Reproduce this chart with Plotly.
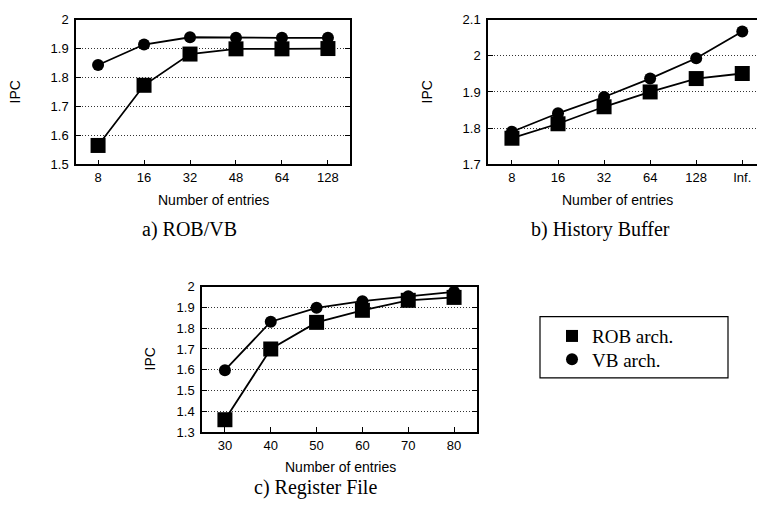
import plotly.graph_objects as go

W, H = 757, 513

# a) ROB/VB size sweep
rob_sizes = ["8", "16", "32", "48", "64", "128"]
rob_ipc_rob = [1.565, 1.773, 1.881, 1.899, 1.899, 1.900]
rob_ipc_vb = [1.843, 1.914, 1.939, 1.937, 1.937, 1.937]

# b) History buffer size sweep
hb_sizes = ["8", "16", "32", "64", "128", "Inf."]
hb_ipc_rob = [1.772, 1.812, 1.859, 1.900, 1.937, 1.951]
hb_ipc_vb = [1.790, 1.841, 1.886, 1.937, 1.993, 2.067]

# c) Register file size sweep
rf_sizes = [30, 40, 50, 60, 70, 80]
rf_ipc_rob = [1.360, 1.700, 1.828, 1.886, 1.934, 1.948]
rf_ipc_vb = [1.598, 1.831, 1.898, 1.930, 1.953, 1.975]

series_names = ["ROB arch.", "VB arch."]
captions = ["a) ROB/VB", "b) History Buffer", "c) Register File"]

SANS = "Liberation Sans, Arial, sans-serif"
SERIF = "Liberation Serif, Times New Roman, serif"

def px_x(x0, x1):
    return [x0 / W, x1 / W]

def px_y(top, bottom):
    return [1 - bottom / H, 1 - top / H]

fig = go.Figure()

sq = dict(symbol="square", size=15, color="black")
ci = dict(symbol="circle", size=12, color="black")
ln = dict(color="black", width=1.8)

def add_pair(xs, rob, vb, xa, ya):
    fig.add_trace(go.Scatter(x=xs, y=rob, mode="lines+markers", marker=sq, line=ln,
                             xaxis=xa, yaxis=ya, showlegend=False, cliponaxis=False))
    fig.add_trace(go.Scatter(x=xs, y=vb, mode="lines+markers", marker=ci, line=ln,
                             xaxis=xa, yaxis=ya, showlegend=False, cliponaxis=False))

add_pair(rob_sizes, rob_ipc_rob, rob_ipc_vb, "x", "y")
add_pair(hb_sizes, hb_ipc_rob, hb_ipc_vb, "x2", "y2")
add_pair(rf_sizes, rf_ipc_rob, rf_ipc_vb, "x3", "y3")

# legend entries (markers only), one legend per row for tight spacing
fig.add_trace(go.Scatter(x=[None], y=[None], mode="markers", name=series_names[0],
                         marker=dict(symbol="square", size=12, color="black"),
                         xaxis="x3", yaxis="y3", legend="legend"))
fig.add_trace(go.Scatter(x=[None], y=[None], mode="markers", name=series_names[1],
                         marker=dict(symbol="circle", size=12, color="black"),
                         xaxis="x3", yaxis="y3", legend="legend2"))

tickfont = dict(family=SANS, size=13, color="black")

def xaxis(domain, anchor, mirror=True, **kw):
    return dict(domain=domain, anchor=anchor, showline=True, linecolor="black", linewidth=1.5,
                mirror=mirror, ticks="inside", ticklen=5, tickcolor="black", tickwidth=1,
                showgrid=False, zeroline=False, tickfont=tickfont, fixedrange=True, **kw)

def yaxis(domain, anchor, rng, dtick, mirror="ticks"):
    return dict(domain=domain, anchor=anchor, range=rng, dtick=dtick, showline=True,
                linecolor="black", linewidth=1.5, mirror=mirror, ticks="inside", ticklen=5,
                tickcolor="black", tickwidth=1, showgrid=True, gridcolor="#333333",
                griddash="1px,2px", gridwidth=1, zeroline=False, tickfont=tickfont,
                fixedrange=True, ticklabelstandoff=3)

legend_style = dict(xanchor="left", yanchor="middle",
                    font=dict(family=SERIF, size=19, color="black"),
                    bgcolor="rgba(0,0,0,0)", borderwidth=0,
                    itemclick=False, itemdoubleclick=False)

fig.update_layout(
    width=W, height=H, margin=dict(l=0, r=0, t=0, b=0),
    paper_bgcolor="white", plot_bgcolor="white",
    xaxis=xaxis(px_x(76, 350), "y", type="category", categoryorder="array",
                categoryarray=rob_sizes, range=[-0.48, 5.48]),
    yaxis=yaxis(px_y(13, 162), "x", [1.5, 2.0], 0.1),
    xaxis2=xaxis(px_x(488, 757), "y2", type="category", categoryorder="array",
                 categoryarray=hb_sizes, range=[-0.52, 5.32]),
    yaxis2=yaxis(px_y(13, 162), "x2", [1.7, 2.1], 0.1, mirror=False),
    xaxis3=xaxis(px_x(202, 477), "y3", range=[25, 85], dtick=10, tickmode="linear", tick0=30),
    yaxis3=yaxis(px_y(288, 438), "x3", [1.3, 2.0], 0.1),
    showlegend=True,
    legend=dict(x=552 / W, y=1 - 339 / H, **legend_style),
    legend2=dict(x=552 / W, y=1 - 363 / H, **legend_style),
)

# legend frame
fig.add_shape(type="rect", xref="paper", yref="paper",
              x0=540 / W, x1=728 / W, y0=1 - 382 / H, y1=1 - 319 / H,
              line=dict(color="black", width=1.2), fillcolor="rgba(0,0,0,0)")

def ann(text, x, y, size, family, angle=0):
    fig.add_annotation(text=text, x=x / W, y=1 - y / H, xref="paper", yref="paper",
                       showarrow=False, xanchor="center", yanchor="middle", textangle=angle,
                       font=dict(family=family, size=size, color="black"))

# axis titles
ann("Number of entries", 213, 199, 14, SANS)
ann("Number of entries", 617, 199, 14, SANS)
ann("Number of entries", 340, 474, 14, SANS)
ann("IPC", 15, 88, 14, SANS, -90)
ann("IPC", 427, 88, 14, SANS, -90)
ann("IPC", 150, 363, 14, SANS, -90)

# panel captions
ann(captions[0], 189, 229, 20, SERIF)
ann(captions[1], 600, 229, 20, SERIF)
ann(captions[2], 315, 495, 20, SERIF)

fig.write_html("out.html")
